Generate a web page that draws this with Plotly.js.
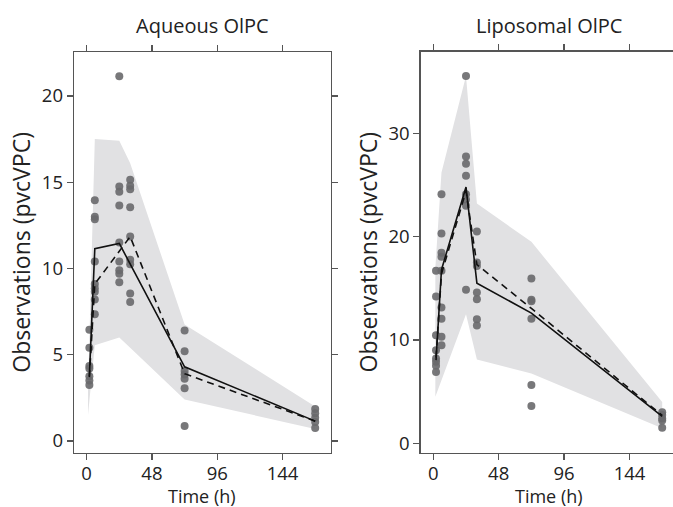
<!DOCTYPE html>
<html>
<head>
<meta charset="utf-8">
<script src="https://cdn.plot.ly/plotly-3.0.1.min.js"></script>
<style>
html,body{margin:0;padding:0;overflow:hidden;background:#fff;}
#chart{width:680px;height:507px;}
</style>
</head>
<body>
<div id="chart"></div>
<script>
// ---- Aqueous OlPC ----
const aqObsTime = [2,2,2,2,2,2,2, 6,6,6,6,6,6,6,6,6, 24,24,24,24,24,24,24,24,24, 32,32,32,32,32,32,32,32,32, 72,72,72,72,72,72,72, 168,168,168,168,168];
const aqObs = [6.45,5.4,4.35,4.2,3.75,3.5,3.25, 13.95,13.0,12.85,10.4,9.1,8.85,8.65,8.2,7.35, 21.15,14.75,14.45,13.65,11.5,10.4,9.9,9.7,9.2, 15.15,14.8,14.6,13.55,11.85,10.5,10.25,8.55,8.05, 6.4,5.2,4.05,3.85,3.6,3.05,0.87, 1.85,1.6,1.35,1.1,0.75];
const aqObsMedTime = [2,6,24,72,168];
const aqObsMedian = [3.75,11.15,11.45,4.3,1.15];
const aqPredTime = [2,6,24,32,72,168];
const aqPredMedian = [3.7,9.1,11.0,11.85,3.9,1.15];
const aqBandTime = [1,6,24,32,72,168];
const aqBandUpper = [3.0,17.5,17.4,16.1,6.75,2.0];
const aqBandLower = [1.5,5.55,6.0,5.4,2.4,0.7];

// ---- Liposomal OlPC ----
const liObsTime = [2,2,2,2,2,2,2,2, 6,6,6,6,6,6,6,6,6, 24,24,24,24,24,24,24,24, 32,32,32,32,32,32,32, 72,72,72,72,72,72, 168,168,168,168,168];
const liObs = [16.7,14.2,10.45,9.0,8.2,7.9,7.5,6.9, 24.1,20.3,18.45,18.05,16.7,13.15,12.05,10.3,9.5, 35.55,27.75,27.05,25.9,24.1,23.6,23.0,14.85, 20.5,17.5,17.15,14.6,13.95,12.0,11.4, 15.95,13.9,13.75,12.05,5.65,3.6, 3.0,2.75,2.4,2.2,1.5];
const liMedTime = [2,6,24,32,72,168];
const liObsMedian = [8.05,16.8,24.8,15.5,12.6,2.6];
const liPredMedian = [8.3,16.4,24.4,17.3,13.05,2.7];
const liBandTime = [1.5,6,24,32,72,168];
const liBandUpper = [17,26.2,35.55,23.2,19.5,4.0];
const liBandLower = [4.5,6.1,12.5,8.1,6.75,1.45];

const xTicks = [0,48,96,144];
const aqYTicks = [0,5,10,15,20];
const liYTicks = [0,10,20,30];
const xTitle = 'Time (h)';
const yTitle = 'Observations (pvcVPC)';

const bandColor = '#e1e1e3';
const dotColor = 'rgba(105,105,108,0.9)';
const FONT = '"Open Sans", "DejaVu Sans", sans-serif';

function band(t, up, lo, xa, ya){
  return {x: t.concat(t.slice().reverse()), y: up.concat(lo.slice().reverse()),
    fill:'toself', fillcolor: bandColor, line:{width:0}, mode:'lines',
    hoverinfo:'skip', showlegend:false, xaxis:xa, yaxis:ya};
}
function dots(t, v, xa, ya){
  return {x:t, y:v, mode:'markers', marker:{size:8, color:dotColor}, showlegend:false, xaxis:xa, yaxis:ya};
}
function line(t, v, dash, xa, ya){
  return {x:t, y:v, mode:'lines', line:{color:'#111', width:1.6, dash:dash}, showlegend:false, xaxis:xa, yaxis:ya};
}

const data = [
  band(aqBandTime, aqBandUpper, aqBandLower, 'x', 'y'),
  dots(aqObsTime, aqObs, 'x', 'y'),
  line(aqPredTime, aqPredMedian, '7px,5px', 'x', 'y'),
  line(aqObsMedTime, aqObsMedian, 'solid', 'x', 'y'),
  band(liBandTime, liBandUpper, liBandLower, 'x2', 'y2'),
  dots(liObsTime, liObs, 'x2', 'y2'),
  line(liMedTime, liPredMedian, '7px,5px', 'x2', 'y2'),
  line(liMedTime, liObsMedian, 'solid', 'x2', 'y2')
];

const W = 680, H = 507;
const axCommon = {showline:true, linecolor:'#555', linewidth:1.3, mirror:'ticks', ticks:'outside', ticklen:6, tickwidth:1.2, tickcolor:'#555',
  showgrid:false, zeroline:false, tickfont:{family:FONT, size:18.5, color:'#222'}, fixedrange:true};
const titleFont = {family:FONT, size:20, color:'#222'};
const xTitleFont = {family:FONT, size:18, color:'#222'};
const yTitleFont = {family:FONT, size:23, color:'#222'};

const L1 = 74, R1 = 330.7, L2 = 420.7, R2 = 678;

const layout = {
  width: W, height: H,
  margin:{l:0, r:0, t:0, b:0},
  paper_bgcolor:'#fff', plot_bgcolor:'#fff',
  showlegend:false,
  xaxis: Object.assign({}, axCommon, {domain:[L1/W, R1/W], range:[-9.3,179.4], tickvals:xTicks, anchor:'y', ticklabelstandoff:-2}),
  yaxis: Object.assign({}, axCommon, {domain:[1-452.7/H, 1-52/H], range:[-0.68,22.55], tickvals:aqYTicks, anchor:'x',
    title:{text:yTitle, font:yTitleFont, standoff:4}}),
  xaxis2: Object.assign({}, axCommon, {domain:[L2/W, R2/W], range:[-9.25,179.6], tickvals:xTicks, anchor:'y2', ticklabelstandoff:-2}),
  yaxis2: Object.assign({}, axCommon, {domain:[1-452.7/H, 1-51.7/H], range:[-0.91,37.9], tickvals:liYTicks, anchor:'x2',
    title:{text:yTitle, font:yTitleFont, standoff:4}}),
  annotations:[
    {text:'Aqueous OlPC', xref:'paper', yref:'paper', x:(L1+R1)/2/W, y:1-25/H, showarrow:false, font:titleFont, xanchor:'center', yanchor:'middle'},
    {text:'Liposomal OlPC', xref:'paper', yref:'paper', x:(L2+R2)/2/W, y:1-25/H, showarrow:false, font:titleFont, xanchor:'center', yanchor:'middle'},
    {text:xTitle, xref:'paper', yref:'paper', x:(L1+R1)/2/W, y:1-482.5/H, showarrow:false, font:xTitleFont, xanchor:'center', yanchor:'top', borderpad:0},
    {text:xTitle, xref:'paper', yref:'paper', x:(L2+R2)/2/W, y:1-482.5/H, showarrow:false, font:xTitleFont, xanchor:'center', yanchor:'top', borderpad:0}
  ]
};

Plotly.newPlot('chart', data, layout, {displayModeBar:false, staticPlot:true});
</script>
</body>
</html>
